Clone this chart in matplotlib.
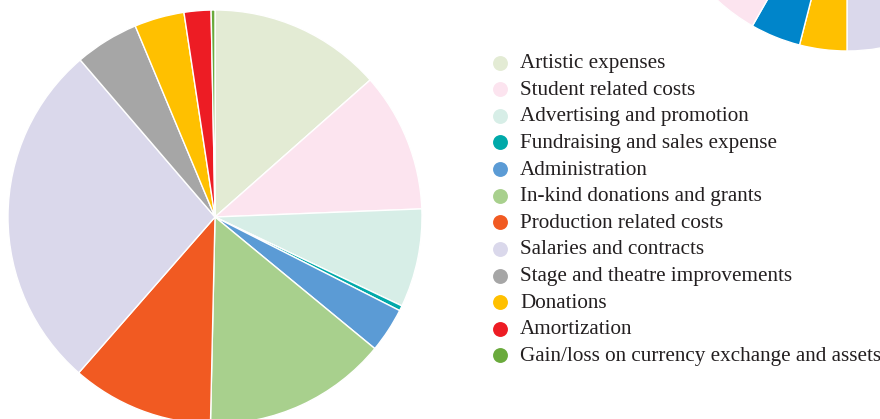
import matplotlib.pyplot as plt

# expense categories (main pie) and their shares in percent
categories = [
    "Artistic expenses",
    "Student related costs",
    "Advertising and promotion",
    "Fundraising and sales expense",
    "Administration",
    "In-kind donations and grants",
    "Production related costs",
    "Salaries and contracts",
    "Stage and theatre improvements",
    "Donations",
    "Amortization",
    "Gain/loss on currency exchange and assets",
]
expense_values = [13.5, 10.9, 7.7, 0.4, 3.5, 14.4, 11.1, 27.3, 5.0, 3.9, 2.1, 0.3]
expense_colors = [
    "#E3EBD4", "#FCE4EF", "#D7EEE7", "#00A9A9", "#5B9BD5", "#A8D08D",
    "#F15A22", "#DAD8EB", "#A6A6A6", "#FFC000", "#ED1C24", "#6AAA3C",
]

# second pie, mostly outside the picture
other_values = [38.9, 11.1, 4.0, 4.25, 14.0, 27.75]
other_colors = ["#E3EBD4", "#DAD8EB", "#FFC000", "#0085CA", "#FCE4EF", "#A6A6A6"]

W, H = 880, 419
fig = plt.figure(figsize=(W / 100, H / 100), dpi=100)
ax = fig.add_axes([0, 0, 1, 1])

wedge = dict(edgecolor="white", linewidth=1.0)
ax.pie(expense_values, colors=expense_colors, startangle=90, counterclock=False,
       center=(215, H - 217), radius=207, wedgeprops=wedge)
ax.pie(other_values, colors=other_colors, startangle=90, counterclock=False,
       center=(847, H + 140), radius=191, wedgeprops=wedge)

# legend
for i, (name, col) in enumerate(zip(categories, expense_colors)):
    y = H - (62.7 + i * 26.6)
    ax.scatter([500], [y], s=115, color=col, linewidths=0, zorder=3)
    ax.text(520, y - 1, name, fontsize=15.2, family="Liberation Serif",
            color="#231F20", va="center", ha="left")

ax.set_xlim(0, W)
ax.set_ylim(0, H)
ax.set_aspect("equal")
ax.axis("off")

fig.savefig("out.png", dpi=100)
